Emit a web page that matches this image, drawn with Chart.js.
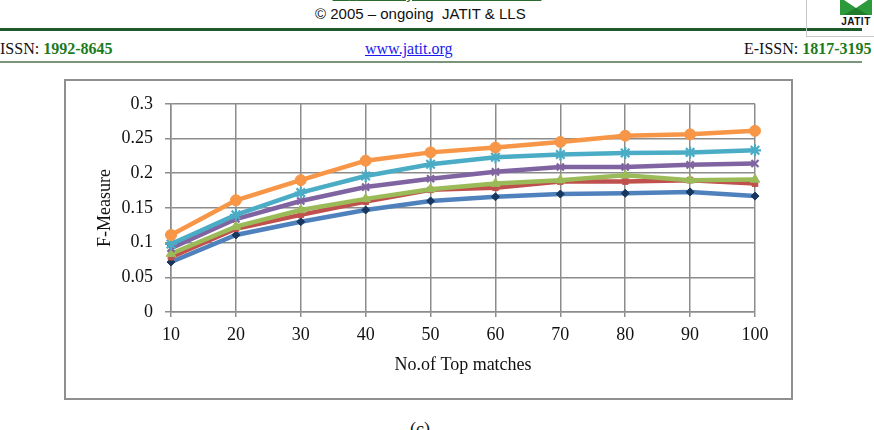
<!DOCTYPE html>
<html>
<head>
<meta charset="utf-8">
<script src="https://cdn.jsdelivr.net/npm/chart.js@4"></script>
<style>
  body { margin: 0; width: 874px; height: 430px; position: relative; overflow: hidden; background: #fff; }
  .abs { position: absolute; white-space: nowrap; }
  .sans { font-family: "Liberation Sans", Arial, sans-serif; }
  .serif { font-family: "Liberation Serif", "Times New Roman", serif; }
  .green { color: #1d7a1d; font-weight: bold; }
  #box { position: absolute; left: 64px; top: 79px; width: 725px; height: 317px; border: 2px solid #8f8f8f; }
</style>
</head>
<body>

<div class="abs sans" style="left:0;width:874px;text-align:center;top:-15px;font-size:15px;color:#2d6a2d;"><span style="text-decoration:underline;">31<sup style="font-size:9px">st</sup> January 2016. Vol.83. No.2</span></div>
<div class="abs sans" style="left:315px;top:5px;font-size:15px;color:#111;">© 2005 – ongoing&nbsp; JATIT &amp; LLS</div>
<div class="abs" style="left:0;top:28px;width:862px;height:3px;background:#1f5a2b;"></div>
<div class="abs" style="left:806px;top:0;width:1px;height:36px;background:#c8c8c8;"></div>
<div class="abs" style="left:806px;top:36px;width:68px;height:1px;background:#c8c8c8;"></div>
<svg class="abs" style="left:840px;top:0;" width="32" height="17">
  <rect x="0" y="0" width="32" height="15" fill="#2c9a3a"/>
  <polygon points="4,0 28,0 16,8" fill="#fff"/>
  <polygon points="16,8 28,15 4,15" fill="#1f7a2c"/>
</svg>
<div class="abs sans" style="left:840px;top:16px;width:32px;text-align:center;font-size:10px;font-weight:bold;color:#111;letter-spacing:0.5px;">JATIT</div>

<div class="abs serif" style="left:0;top:40px;font-size:16px;color:#111;">ISSN: <span class="green">1992-8645</span></div>
<div class="abs serif" style="left:365px;top:40px;font-size:16px;color:#1a1aee;text-decoration:underline;">www.jatit.org</div>
<div class="abs serif" style="left:744px;top:40px;font-size:16px;color:#111;">E-ISSN: <span class="green">1817-3195</span></div>
<div class="abs" style="left:0;top:61px;width:862px;height:2px;background:#7b957b;"></div>

<div id="box"><canvas id="fm" width="725" height="317"></canvas></div>

<div class="abs serif" style="left:410px;top:419px;font-size:18px;color:#111;">(c)</div>

<script>
const topMatches = ['10', '20', '30', '40', '50', '60', '70', '80', '90', '100'];
const yTicks = [0, 0.05, 0.1, 0.15, 0.2, 0.25, 0.3];

const seriesBlue   = [0.072, 0.111, 0.130, 0.147, 0.160, 0.166, 0.170, 0.171, 0.173, 0.167];
const seriesRed    = [0.079, 0.120, 0.140, 0.159, 0.176, 0.179, 0.188, 0.188, 0.190, 0.185];
const seriesGreen  = [0.084, 0.123, 0.147, 0.163, 0.177, 0.185, 0.190, 0.197, 0.190, 0.191];
const seriesPurple = [0.092, 0.134, 0.160, 0.180, 0.192, 0.202, 0.209, 0.209, 0.212, 0.214];
const seriesTeal   = [0.098, 0.140, 0.172, 0.196, 0.213, 0.223, 0.227, 0.229, 0.230, 0.233];
const seriesOrange = [0.111, 0.161, 0.190, 0.218, 0.230, 0.237, 0.245, 0.254, 0.256, 0.261];

const gridGrey = '#8c8c8c';
const tickFont = { family: '"Liberation Serif", "Times New Roman", serif', size: 18 };

function line(label, data, color, style, radius, fill, order) {
    return {
        label: label,
        data: data,
        borderColor: color,
        backgroundColor: color,
        borderWidth: 4.5,
        tension: 0,
        pointStyle: style,
        pointRadius: radius,
        pointBackgroundColor: fill,
        pointBorderColor: (style === 'crossRot' || style === 'star') ? color : fill,
        pointBorderWidth: (style === 'crossRot' || style === 'star') ? 2.2 : 1,
        order: order
    };
}

document.addEventListener('DOMContentLoaded', function () {

    new Chart(document.getElementById('fm'), {
        type: 'line',
        data: {
            labels: topMatches,
            datasets: [
                line('Series 1', seriesBlue, '#4f81bd', 'rectRot', 4, '#17375e', 6),
                line('Series 2', seriesRed, '#c0504d', 'rect', 4, '#c0504d', 5),
                line('Series 3', seriesGreen, '#9bbb59', 'triangle', 5.5, '#9bbb59', 4),
                line('Series 4', seriesPurple, '#8064a2', 'crossRot', 5, '#8064a2', 3),
                line('Series 5', seriesTeal, '#4bacc6', 'star', 6, '#4bacc6', 2),
                line('Series 6', seriesOrange, '#f79646', 'circle', 5.5, '#f79646', 1)
            ]
        },
        options: {
            responsive: false,
            animation: false,
            layout: { padding: { left: 0, top: 21, right: 36, bottom: 0 } },
            plugins: {
                legend: { display: false },
                tooltip: { enabled: false }
            },
            scales: {
                x: {
                    offset: false,
                    afterFit: function (s) { s.height = 86; },
                    grid: { color: gridGrey, lineWidth: 1.5, tickLength: 5 },
                    border: { color: gridGrey, width: 1.5 },
                    ticks: { color: '#111', font: tickFont, padding: 7, maxRotation: 0 },
                    title: {
                        display: true,
                        text: 'No.of Top matches',
                        color: '#111',
                        font: tickFont,
                        padding: { top: 0, bottom: 22 }
                    }
                },
                y: {
                    min: 0,
                    max: 0.3,
                    afterFit: function (s) { s.width = 105; },
                    afterBuildTicks: function (s) { s.ticks = yTicks.map(v => ({ value: v })); },
                    grid: { color: gridGrey, lineWidth: 1.5, tickLength: 6 },
                    border: { color: gridGrey, width: 1.5 },
                    ticks: {
                        color: '#111',
                        font: tickFont,
                        padding: 12,
                        callback: v => String(+(+v).toFixed(2))
                    },
                    title: {
                        display: true,
                        text: 'F-Measure',
                        color: '#111',
                        font: tickFont,
                        padding: { top: 28, bottom: 0 }
                    }
                }
            }
        }
    });

});
</script>
</body>
</html>
